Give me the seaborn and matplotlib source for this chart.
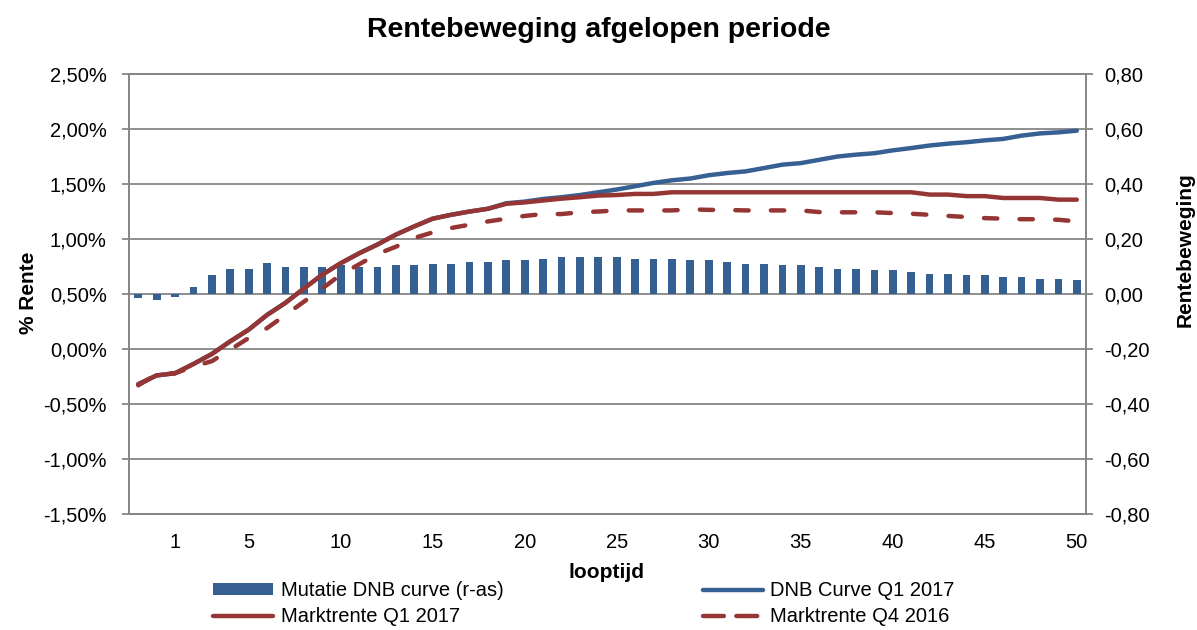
import numpy as np
import pandas as pd
import seaborn as sns
import matplotlib.pyplot as plt
from matplotlib.patches import Patch
from matplotlib.lines import Line2D
from matplotlib.ticker import FuncFormatter, MultipleLocator

# looptijd in jaren (eerste twee punten zonder label)
looptijd = [0.25, 0.5] + list(range(1, 51))
tick_jaren = [1, 5, 10, 15, 20, 25, 30, 35, 40, 45, 50]

mutatie_dnb = [-0.015, -0.02, -0.01, 0.027, 0.068, 0.091, 0.091, 0.114, 0.098, 0.098,
               0.098, 0.104, 0.098, 0.098, 0.104, 0.104, 0.110, 0.110, 0.116, 0.116,
               0.122, 0.122, 0.128, 0.135, 0.135, 0.135, 0.135, 0.128, 0.128, 0.128,
               0.122, 0.122, 0.116, 0.110, 0.110, 0.104, 0.104, 0.098, 0.092, 0.092,
               0.086, 0.086, 0.080, 0.074, 0.074, 0.068, 0.068, 0.063, 0.063, 0.056,
               0.056, 0.050]

dnb_q1_2017 = [-0.32, -0.24, -0.22, -0.136, -0.045, 0.07, 0.176, 0.31, 0.42, 0.55,
               0.676, 0.78, 0.87, 0.95, 1.04, 1.115, 1.185, 1.22, 1.25, 1.275,
               1.325, 1.34, 1.364, 1.38, 1.40, 1.425, 1.45, 1.48, 1.51, 1.534,
               1.55, 1.58, 1.60, 1.615, 1.645, 1.676, 1.69, 1.72, 1.75, 1.767,
               1.78, 1.806, 1.827, 1.85, 1.867, 1.88, 1.897, 1.91, 1.94, 1.96,
               1.97, 1.985]

markt_q1_2017 = [-0.32, -0.24, -0.22, -0.136, -0.045, 0.07, 0.176, 0.31, 0.42, 0.55,
                 0.676, 0.78, 0.87, 0.95, 1.04, 1.115, 1.185, 1.22, 1.25, 1.275,
                 1.32, 1.333, 1.35, 1.367, 1.38, 1.395, 1.40, 1.41, 1.41, 1.425,
                 1.425, 1.425, 1.425, 1.425, 1.425, 1.425, 1.425, 1.425, 1.425, 1.425,
                 1.425, 1.425, 1.425, 1.404, 1.404, 1.39, 1.39, 1.373, 1.373, 1.373,
                 1.358, 1.358]

markt_q4_2016 = [-0.33, -0.23, -0.22, -0.16, -0.11, -0.006, 0.10, 0.19, 0.31, 0.43,
                 0.55, 0.676, 0.77, 0.864, 0.93, 1.01, 1.06, 1.10, 1.13, 1.16,
                 1.185, 1.21, 1.227, 1.227, 1.243, 1.25, 1.26, 1.26, 1.26, 1.26,
                 1.27, 1.265, 1.264, 1.26, 1.26, 1.26, 1.26, 1.245, 1.243, 1.243,
                 1.243, 1.236, 1.23, 1.22, 1.21, 1.20, 1.19, 1.185, 1.18, 1.18,
                 1.175, 1.16]

blauw = '#376092'
rood = '#963634'
grijs = '#868686'

sns.set_style('white')
plt.rcParams['font.family'] = ['Liberation Sans', 'DejaVu Sans']
plt.rcParams['text.color'] = 'black'

pos = np.arange(len(looptijd))
data = pd.DataFrame({'pos': pos, 'looptijd': looptijd, 'mutatie': mutatie_dnb,
                     'dnb': dnb_q1_2017, 'q1': markt_q1_2017, 'q4': markt_q4_2016})

fig = plt.figure(figsize=(11.97, 6.3), dpi=100)
ax = fig.add_axes([0.1078, 0.1841, 0.7995, 0.6984])
ax2 = ax.twinx()

# staven op rechteras
sns.barplot(data=data, x='pos', y='mutatie', ax=ax2, color=blauw, width=0.42,
            saturation=1, linewidth=0)
ax2.set_ylim(-0.8, 0.8)
ax2.yaxis.set_major_locator(MultipleLocator(0.2))
ax2.yaxis.set_major_formatter(FuncFormatter(lambda v, p: f'{v:.2f}'.replace('.', ',')))
ax2.grid(axis='y', color=grijs, lw=1.3)
ax2.set_axisbelow(True)

# lijnen op linkeras
ax.set_zorder(ax2.get_zorder() + 1)
ax.patch.set_visible(False)
sns.lineplot(data=data, x='pos', y='dnb', ax=ax, color=blauw, lw=3.2,
             solid_capstyle='round')
sns.lineplot(data=data, x='pos', y='q1', ax=ax, color=rood, lw=3.2,
             solid_capstyle='round')
sns.lineplot(data=data, x='pos', y='q4', ax=ax, color=rood, lw=3.2,
             linestyle=(0, (3, 5)), dash_capstyle='round')
ax.set_ylim(-1.5, 2.5)
ax.yaxis.set_major_locator(MultipleLocator(0.5))
ax.yaxis.set_major_formatter(FuncFormatter(lambda v, p: f'{v:.2f}%'.replace('.', ',')))
ax.set_xlim(-0.5, len(looptijd) - 0.5)

tick_pos = [pos[looptijd.index(j)] for j in tick_jaren]
ax.set_xticks(tick_pos)
ax.set_xticklabels([str(j) for j in tick_jaren])
ax2.set_xticks(tick_pos)
ax2.set_xticklabels([str(j) for j in tick_jaren])

ax.set_xlabel('')
ax.set_ylabel('')
ax2.set_xlabel('')
ax2.set_ylabel('')

for a in (ax, ax2):
    for s in a.spines.values():
        s.set_color(grijs)
        s.set_linewidth(1.3)
ax.tick_params(axis='y', left=True, length=5, width=1.3, color=grijs, pad=11,
               labelsize=14.5, labelcolor='black')
ax2.tick_params(axis='y', right=True, length=5, width=1.3, color=grijs, pad=8,
                labelsize=14.5, labelcolor='black')
ax.tick_params(axis='x', length=0, pad=14, labelsize=14.5, labelcolor='black')
ax2.tick_params(axis='x', length=0, pad=14, labelsize=14.5, labelcolor='black')

fig.text(0.5, 0.952, 'Rentebeweging afgelopen periode', ha='center', va='center',
         fontsize=20.5, fontweight='bold')
fig.text(0.0234, 0.535, '% Rente', rotation=90, ha='center', va='center',
         fontsize=15, fontweight='bold')
fig.text(0.99, 0.603, 'Rentebeweging', rotation=90, ha='center', va='center',
         fontsize=15, fontweight='bold')
fig.text(0.507, 0.092, 'looptijd', ha='center', va='center',
         fontsize=15, fontweight='bold')

h_bar = Patch(facecolor=blauw, edgecolor='none')
h_dnb = Line2D([], [], color=blauw, lw=3.2, solid_capstyle='round')
h_q1 = Line2D([], [], color=rood, lw=3.2, solid_capstyle='round')
h_q4 = Line2D([], [], color=rood, lw=3.2, linestyle=(0, (4.7, 2.8)),
              dash_capstyle='round')

leg_kw = dict(frameon=False, loc='center left', borderpad=0, borderaxespad=0,
              handlelength=3.0, handleheight=0.5, handletextpad=0.35,
              labelspacing=0.35, fontsize=14.5)
fig.legend([h_bar, h_q1], ['Mutatie DNB curve (r-as)', 'Marktrente Q1 2017'],
           bbox_to_anchor=(0.178, 0.042), **leg_kw)
fig.legend([h_dnb, h_q4], ['DNB Curve Q1 2017', 'Marktrente Q4 2016'],
           bbox_to_anchor=(0.587, 0.042), **leg_kw)

plt.savefig('out.png', dpi=100)
